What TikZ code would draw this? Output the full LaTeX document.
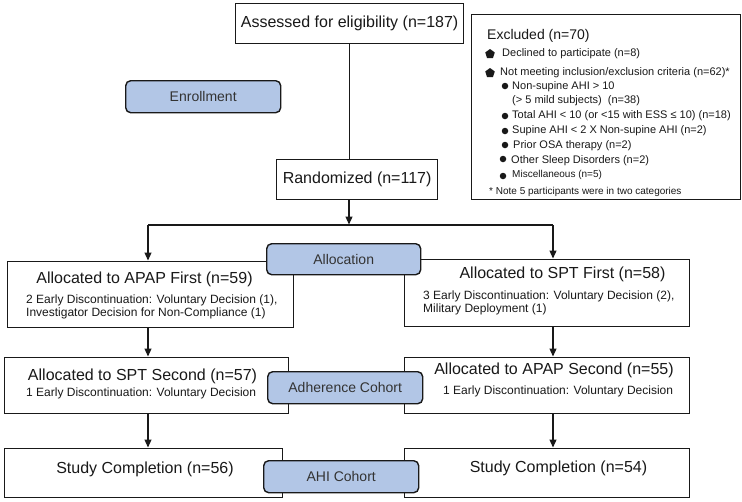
\documentclass[tikz,border=0pt]{standalone}
\usepackage{fontspec}
\setmainfont{Liberation Sans}
\usetikzlibrary{arrows.meta,shapes.geometric}
\definecolor{cohortblue}{RGB}{178,198,230}
\definecolor{ink}{RGB}{25,25,25}
\tikzset{
 box/.style={draw=ink, line width=1.2pt, fill=white, inner sep=0pt, anchor=north west, text=ink},
 cohort/.style={draw=ink, line width=1.4pt, fill=cohortblue, rounded corners=5pt, inner sep=0pt, anchor=north west, font=\fontsize{14}{16}\selectfont, text=black!80},
 conn/.style={draw=ink, line width=1.2pt},
 arr/.style={draw=ink, line width=1.2pt, -{Triangle[length=8pt,width=7pt]}, shorten >=0.5pt},
 ttl/.style={font=\fontsize{16}{18}\selectfont, inner sep=0pt, text=ink},
 subtxt/.style={font=\fontsize{12}{12.5}\selectfont, inner sep=0pt, align=left, anchor=west, text=ink},
 exc/.style={font=\fontsize{11}{13}\selectfont, inner sep=0pt, anchor=west, text=ink},
 pent/.style={regular polygon, regular polygon sides=5, fill=ink, inner sep=0pt, minimum size=10pt},
 bul/.style={circle, fill=ink, inner sep=0pt, minimum size=6.5pt},
}
\begin{document}
\begin{tikzpicture}[x=1pt,y=-1pt]
\useasboundingbox (0,0) rectangle (742,501);
% main boxes
\node[box, minimum width=228pt, minimum height=40pt, font=\fontsize{16}{18}\selectfont] (assessed) at (235,3) {Assessed for eligibility (n=187)};
\node[box, minimum width=269pt, minimum height=185pt] (excluded) at (471,14) {};
\node[box, minimum width=161pt, minimum height=40pt, font=\fontsize{16}{18}\selectfont] (rand) at (276,159) {Randomized (n=117)};
\node[box, minimum width=286pt, minimum height=66pt] (apap1) at (7,261) {};
\node[box, minimum width=285pt, minimum height=67pt] (spt1) at (404,259) {};
\node[box, minimum width=284pt, minimum height=56pt] (spt2) at (4,357) {};
\node[box, minimum width=285pt, minimum height=56pt] (apap2) at (404,357) {};
\node[box, minimum width=278pt, minimum height=49pt] (done1) at (4,448) {};
\node[box, minimum width=285pt, minimum height=49pt] (done2) at (404,448) {};
% box texts
\node[ttl] (apap1t) at (144.5,279) {Allocated to APAP First (n=59)};
\node[subtxt] (apap1s) at (26,307) {2 Early Discontinuation: Voluntary Decision (1),\\Investigator Decision for Non-Compliance (1)};
\node[ttl] (spt1t) at (562.5,274) {Allocated to SPT First (n=58)};
\node[subtxt] (spt1s) at (423,303) {3 Early Discontinuation: Voluntary Decision (2),\\Military Deployment (1)};
\node[ttl] (spt2t) at (142.5,376) {Allocated to SPT Second (n=57)};
\node[subtxt] (spt2s) at (26,393) {1 Early Discontinuation: Voluntary Decision};
\node[ttl] (apap2t) at (554,370) {Allocated to APAP Second (n=55)};
\node[subtxt] (apap2s) at (443,391) {1 Early Discontinuation: Voluntary Decision};
\node[ttl] (done1t) at (145,469) {Study Completion (n=56)};
\node[ttl] (done2t) at (558.5,468) {Study Completion (n=54)};
% excluded contents
\node[exc, font=\fontsize{14}{16}\selectfont] (ext) at (487,36) {Excluded (n=70)};
\node[pent] (p1) at (490,54) {};
\node[exc] (e1) at (502,54) {Declined to participate (n=8)};
\node[pent] (p2) at (490,73) {};
\node[exc] (e2) at (500,73) {Not meeting inclusion/exclusion criteria (n=62)*};
\node[bul] (b1) at (505,86) {};
\node[exc] (e3) at (512,87) {Non-supine AHI > 10};
\node[exc] (e3b) at (512,101) {(> 5 mild subjects)\ \ (n=38)};
\node[bul] (b2) at (505,116) {};
\node[exc] (e4) at (512,116) {Total AHI < 10 (or <15 with ESS ≤ 10) (n=18)};
\node[bul] (b3) at (505,131) {};
\node[exc] (e5) at (512,131) {Supine AHI < 2 X Non-supine AHI (n=2)};
\node[bul] (b4) at (505,145) {};
\node[exc] (e6) at (513,146) {Prior OSA therapy (n=2)};
\node[bul] (b5) at (503,159) {};
\node[exc] (e7) at (511,161) {Other Sleep Disorders (n=2)};
\node[bul] (b6) at (503,176) {};
\node[exc, font=\fontsize{10}{12}\selectfont] (e8) at (512,175) {Miscellaneous (n=5)};
\node[exc, font=\fontsize{10}{12}\selectfont] (note) at (489,192) {* Note 5 participants were in two categories};
% connectors
\draw[conn] (assessed.south) -- (assessed.south |- rand.north);
\coordinate (split) at (349,225);
\coordinate (splitL) at (148,225);
\coordinate (splitR) at (553,225);
\draw[arr] (split |- rand.south) -- (split);
\draw[conn] (splitL) -- (splitR);
\draw[arr] (splitL) -- (splitL |- apap1.north);
\draw[arr] (splitR) -- (splitR |- spt1.north);
\draw[arr] (splitL |- apap1.south) -- (splitL |- spt2.north);
\draw[arr] (splitR |- spt1.south) -- (splitR |- apap2.north);
\draw[arr] (splitL |- spt2.south) -- (splitL |- done1.north);
\draw[arr] (splitR |- apap2.south) -- (splitR |- done2.north);
% cohort labels
\node[cohort, minimum width=155pt, minimum height=32pt] (enroll) at (125,80) {Enrollment};
\node[cohort, minimum width=154pt, minimum height=31pt] (alloc) at (266,243) {Allocation};
\node[cohort, minimum width=155pt, minimum height=32pt] (adher) at (267,371) {Adherence Cohort};
\node[cohort, minimum width=155pt, minimum height=32pt] (ahi) at (263,460) {AHI Cohort};
\end{tikzpicture}
\end{document}
